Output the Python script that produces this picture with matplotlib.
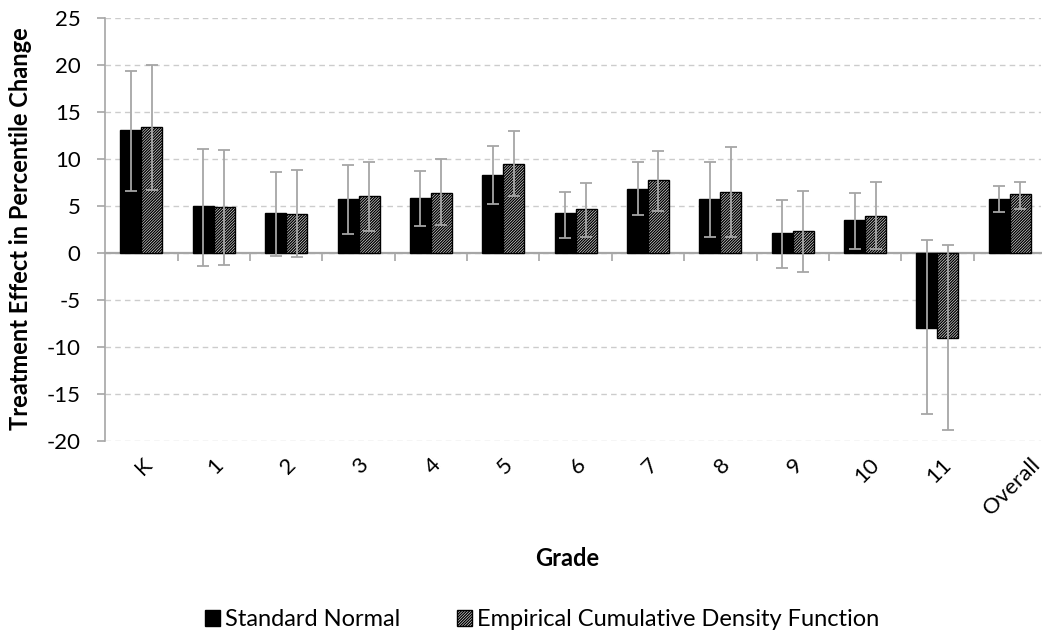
import matplotlib
matplotlib.use('Agg')
import matplotlib.pyplot as plt
import matplotlib.transforms as mtransforms
from matplotlib.patches import Patch
import numpy as np

plt.rcParams['font.family'] = ['Lato', 'DejaVu Sans']
plt.rcParams['hatch.linewidth'] = 1.0

grades = ['K', '1', '2', '3', '4', '5', '6', '7', '8', '9', '10', '11', 'Overall']

normal_effect = [13.05, 4.95, 4.2, 5.7, 5.8, 8.3, 4.2, 6.8, 5.7, 2.05, 3.45, -8.0, 5.75]
normal_lower = [6.6, -1.45, -0.3, 2.0, 2.8, 5.2, 1.6, 4.0, 1.65, -1.65, 0.35, -17.2, 4.3]
normal_upper = [19.3, 11.0, 8.6, 9.3, 8.7, 11.3, 6.5, 9.6, 9.6, 5.65, 6.4, 1.3, 7.1]

ecdf_effect = [13.35, 4.85, 4.1, 6.0, 6.4, 9.45, 4.6, 7.7, 6.5, 2.3, 3.95, -9.05, 6.2]
ecdf_lower = [6.7, -1.3, -0.5, 2.3, 2.9, 6.0, 1.7, 4.4, 1.7, -2.1, 0.4, -18.9, 4.6]
ecdf_upper = [20.0, 10.9, 8.8, 9.7, 10.0, 12.9, 7.4, 10.8, 11.2, 6.6, 7.5, 0.85, 7.55]

y_ticks = [-20, -15, -10, -5, 0, 5, 10, 15, 20, 25]

W, H = 1042, 644
fig = plt.figure(figsize=(W / 100, H / 100), dpi=100)
left, right, top, bottom = 105.3, 1041, 17.7, 440.7
ax = fig.add_axes([left / W, 1 - bottom / H, (right - left) / W, (bottom - top) / H])

x = np.arange(len(grades))
bw = 0.29
grey = '#A6A6A6'
hatch = '////////////'

ax.bar(x - bw / 2, normal_effect, bw, color='black', edgecolor='black', linewidth=1, zorder=3)
ax.bar(x + bw / 2, ecdf_effect, bw, color='white', edgecolor='black', linewidth=1,
       hatch=hatch, zorder=3)

ne = np.array(normal_effect)
ee = np.array(ecdf_effect)
ax.errorbar(x - bw / 2, ne, yerr=[ne - np.array(normal_lower), np.array(normal_upper) - ne],
            fmt='none', ecolor=grey, elinewidth=1.3, capsize=4.5, capthick=1.3, zorder=4)
ax.errorbar(x + bw / 2, ee, yerr=[ee - np.array(ecdf_lower), np.array(ecdf_upper) - ee],
            fmt='none', ecolor=grey, elinewidth=1.3, capsize=4.5, capthick=1.3, zorder=4)

span_px = 72.36
ax.set_xlim(-0.5, -0.5 + (right - left) / span_px)
ax.set_ylim(-20, 25)
ax.set_yticks(y_ticks)
ax.set_yticklabels([str(v) for v in y_ticks], fontsize=16)
ax.yaxis.grid(True, linestyle=(0, (4, 3)), color='#CCCCCC', linewidth=1, zorder=0)
ax.set_axisbelow(True)

for s in ['top', 'right']:
    ax.spines[s].set_visible(False)
ax.spines['left'].set_color(grey)
ax.spines['left'].set_linewidth(1.2)
ax.spines['bottom'].set_position(('data', 0))
ax.spines['bottom'].set_color(grey)
ax.spines['bottom'].set_linewidth(1.6)
ax.spines['bottom'].set_zorder(2)

ax.set_xticks(np.arange(1, len(grades)) - 0.5)
ax.tick_params(axis='x', direction='out', length=6, width=1.2, color=grey, labelbottom=False)
ax.tick_params(axis='y', direction='out', length=5.8, width=1.2, color=grey, pad=12)

trans = mtransforms.offset_copy(ax.get_xaxis_transform(), fig=fig, x=2, y=-14, units='dots')
for i, g in enumerate(grades):
    ax.text(i, 0, g, transform=trans, rotation=45, ha='center', va='top', fontsize=16)

fig.text(567 / W, 1 - 558 / H, 'Grade', ha='center', va='center', fontsize=17, fontweight='bold')
fig.text(21 / W, 1 - 229 / H, 'Treatment Effect in Percentile Change', ha='center', va='center',
         rotation=90, fontsize=17, fontweight='bold')

handles = [Patch(facecolor='black', edgecolor='black', label='Standard Normal'),
           Patch(facecolor='white', edgecolor='black', hatch=hatch,
                 label='Empirical Cumulative Density Function')]
fig.legend(handles=handles, loc='center', bbox_to_anchor=(542 / W, 1 - 620 / H), ncol=2,
           frameon=False, fontsize=17, handlelength=0.65, handleheight=0.65, handletextpad=0.2,
           columnspacing=2.4)

fig.savefig('out.png', dpi=100)
